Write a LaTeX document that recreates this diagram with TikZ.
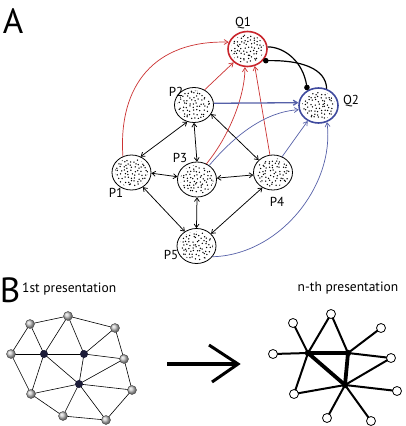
\documentclass[tikz,border=0pt]{standalone}
\usepackage{fontspec}
\setmainfont{PT Sans}
\usetikzlibrary{arrows.meta,shapes.geometric}
\definecolor{qred}{HTML}{C9252C}
\definecolor{qblue}{HTML}{3F4A9E}
\definecolor{ared}{HTML}{CC3333}
\definecolor{ablue}{HTML}{5560A8}
\definecolor{hubc}{HTML}{1C1C38}
\newcommand\stipple[1]{%
  \begin{scope}[shift={(#1.center)}]
    \clip (0,0) ellipse [x radius=16.5, y radius=14.5];
    \foreach \gx in {-17,-13.6,...,17}{%
      \foreach \gy in {-15,-11.6,...,15}{%
        \fill ({\gx+1.3*rand},{\gy+1.3*rand}) circle (0.75);
      }}
  \end{scope}}
\begin{document}
\begin{tikzpicture}[x=1pt,y=-1pt,
  pnode/.style={ellipse,draw,fill=white,line width=0.8pt,minimum width=39pt,minimum height=35pt,inner sep=0pt},
  lab/.style={font=\fontsize{13}{15}\selectfont,inner sep=0pt},
  big/.style={font=\fontsize{35}{38}\selectfont,inner sep=0pt},
  captxt/.style={font=\fontsize{13.5}{15}\selectfont,inner sep=0pt},
  dbl/.style={line width=0.75pt,{Straight Barb[length=3.5pt,width=5pt]}-{Straight Barb[length=3.5pt,width=5pt]}},
  redar/.style={ared,line width=0.7pt,-{Straight Barb[length=4pt,width=5pt]}},
  bluear/.style={ablue,line width=0.7pt,-{Straight Barb[length=4pt,width=5pt]}},
  inhib/.style={black,line width=1.2pt,-{Circle[length=5.5pt]}},
  gball/.style={circle,draw=gray!55!black,line width=0.4pt,ball color=gray!45,minimum size=9pt,inner sep=0pt},
  dball/.style={circle,fill=hubc,minimum size=8pt,inner sep=0pt},
  wball/.style={circle,draw,fill=white,line width=0.8pt,minimum size=9pt,inner sep=0pt},
  hubn/.style={circle,fill=black,minimum size=6.5pt,inner sep=0pt},
  gedge/.style={line width=0.6pt},
  medge/.style={line width=2pt},
  tedge/.style={line width=3.8pt}]
\pgfmathsetseed{11}
\fill[white] (0,0) rectangle (405,426);
\useasboundingbox (0,0) rectangle (405,426);

% ---------- A ----------
\node[big] (lA) at (13,21) {A};
\node[pnode,draw=qred,line width=1.6pt] (Q1) at (247.5,49) {};
\node[pnode,draw=qblue,line width=1.6pt] (Q2) at (318.5,105.5) {};
\node[pnode] (P2) at (194,105) {};
\node[pnode] (P1) at (131.5,172.5) {};
\node[pnode] (P3) at (197,179.5) {};
\node[pnode] (P4) at (273,172.5) {};
\node[pnode] (P5) at (196.5,246) {};
\stipple{Q1}\stipple{Q2}\stipple{P1}\stipple{P2}\stipple{P3}\stipple{P4}\stipple{P5}

\node[lab] (tQ1) at (243,23) {Q1};
\node[lab] (tQ2) at (351,101) {Q2};
\node[lab] (tP2) at (176,92) {P2};
\node[lab] (tP3) at (180,158) {P3};
\node[lab] (tP1) at (116,193) {P1};
\node[lab] (tP4) at (277,202) {P4};
\node[lab] (tP5) at (171,255) {P5};

% black double arrows
\draw[dbl] (P1.60) -- (P2.248);
\draw[dbl] (P2.270) -- (P3.90);
\draw[dbl] (P2.332) -- (P4.139);
\draw[dbl] (P1.358) -- (P3.172);
\draw[dbl] (P3.4) -- (P4.187);
\draw[dbl] (P1.308) -- (P5.129);
\draw[dbl] (P3.270) -- (P5.90);
\draw[dbl] (P4.235) -- (P5.40);

% red arrows to Q1
\draw[redar] (P1.118) .. controls (118,85) and (155,40) .. (Q1.160);
\draw[redar] (P2.55) -- (Q1.224);
\draw[redar] (P3.59) .. controls (230,135) and (245,95) .. (Q1.262);
\draw[redar] (P4.100) -- (Q1.293);

% blue arrows to Q2
\draw[bluear,line width=1.3pt] (P2.5) -- (Q2.172);
\draw[bluear] (P3.49) .. controls (235,135) and (265,112) .. (Q2.192);
\draw[bluear] (P4.60) -- (Q2.235);
\draw[bluear] (P5.326) .. controls (280,255) and (335,185) .. (Q2.297);

% inhibitory links
\draw[inhib] (Q1.6) .. controls (285,47) and (303,62) .. (Q2.126);
\draw[inhib] (Q2.64) .. controls (326,68) and (300,60) .. (Q1.323);

% ---------- B ----------
\node[big] (lB) at (10,290) {B};
\node[captxt,anchor=west] (t1) at (22,289) {1st presentation};
\node[captxt] (tn) at (348,288) {n-th presentation};

% left graph
\foreach \n/\x/\y in {a/30/324,b/68/316,c/115/328,d/11/354,g/124/359,i/31/394,j/132/390,k/63/416,l/106/420}
  \coordinate (\n) at (\x,\y);
\foreach \n/\x/\y in {e/44/354,f/84/354,h/79/384}
  \coordinate (\n) at (\x,\y);
\foreach \u/\v in {a/b,b/c,a/d,a/e,b/e,b/f,c/f,c/g,d/e,e/f,f/g,d/i,e/i,e/h,f/h,g/h,g/j,i/h,h/j,i/k,h/k,h/l,k/l,l/j}
  \draw[gedge] (\u) -- (\v);
\foreach \n in {a,b,c,d,g,i,j,k,l}
  \node[gball] (n\n) at (\n) {};
\foreach \n in {e,f,h}
  \node[dball] (n\n) at (\n) {};

% arrow
\coordinate (arS) at (167,364);
\coordinate (arE) at (238,364);
\coordinate (arU) at (209,345);
\coordinate (arD) at (212,382);
\draw[line width=3.5pt] (arS) -- (arE);
\draw[line width=3pt,line join=miter] (arU) -- (arE) -- (arD);

% right graph
\coordinate (A) at (308,353);
\coordinate (B) at (348,353);
\coordinate (C) at (345,385);
\foreach \n/\x/\y in {r1/293/323,r2/331/314,r3/381/328,r4/273/354,r5/391/358,r6/294/394,r7/397/391,r8/327/418,r9/371/421}
  \coordinate (\n) at (\x,\y);
\foreach \u/\v in {r1/A,A/r2,r2/B,B/r3,r4/A,B/r5,A/r6,r6/C,r5/C,C/r7,C/r8,C/r9}
  \draw[medge] (\u) -- (\v);
\draw[tedge] (A) -- (B);
\draw[tedge] (A) -- (C);
\draw[tedge] (B) -- (C);
\foreach \n in {A,B,C}
  \node[hubn] (h\n) at (\n) {};
\foreach \n in {r1,r2,r3,r4,r5,r6,r7,r8,r9}
  \node[wball] (w\n) at (\n) {};
\end{tikzpicture}
\end{document}
